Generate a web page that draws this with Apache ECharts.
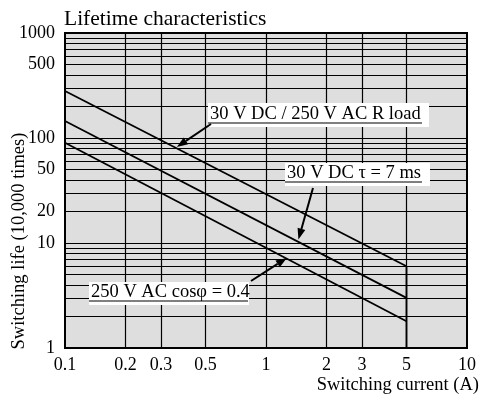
<!DOCTYPE html>
<html>
<head>
<meta charset="utf-8">
<script src="https://cdn.jsdelivr.net/npm/echarts@6/dist/echarts.min.js"></script>
<style>
  html, body { margin: 0; padding: 0; background: #fff; }
  #chart { width: 481px; height: 399px; }
</style>
</head>
<body>
<div id="chart"></div>
<script>
// switching life (x 10,000 times) vs switching current (A)
const rLoad = [[0.1, 280], [5, 6]];
const rLoadCutoff = [[5, 6], [5, 1]];
const dcInductive = [[0.1, 145], [5, 3]];
const acInductive = [[0.1, 90], [5, 1.8]];

const xTickLabels = [0.1, 0.2, 0.3, 0.5, 1, 2, 3, 5, 10];
const yTickLabels = [1, 10, 20, 50, 100, 500, 1000];
const xGridValues = [0.2, 0.3, 0.5, 1, 2, 3, 5];
const yGridValues = [2, 3, 4, 5, 6, 7, 8, 9, 10, 20, 30, 40, 50, 60, 70, 80, 90, 100,
  200, 300, 400, 500, 600, 700, 800, 900];

const labelTexts = ['30 V DC / 250 V AC R load', '30 V DC \u03c4 = 7 ms', '250 V AC cos\u03c6 = 0.4'];
const arrowTips = [[0.36, 82], [1.45, 10.8], [1.27, 7.2]];

const FONT = '"Liberation Serif", "DejaVu Serif", serif';
const INK = '#000';

const chart = echarts.init(document.getElementById('chart'));

const lineSeries = (data) => ({
  type: 'line', data, symbol: 'none', silent: true, z: 3,
  lineStyle: { color: INK, width: 1.8 }, animation: false,
});

chart.setOption({
  animation: false,
  grid: {
    left: 65, right: 14, top: 33, bottom: 51, show: true,
    backgroundColor: '#dedede', borderColor: INK, borderWidth: 2,
  },
  xAxis: {
    type: 'log', min: 0.1, max: 10, logBase: 10,
    axisLine: { show: false }, axisTick: { show: false }, splitLine: { show: false },
    axisLabel: {
      customValues: xTickLabels, margin: 8, color: INK, fontFamily: FONT, fontSize: 18,
      formatter: (v) => String(+v.toPrecision(3)),
    },
  },
  yAxis: {
    type: 'log', min: 1, max: 1000, logBase: 10,
    axisLine: { show: false }, axisTick: { show: false }, splitLine: { show: false },
    axisLabel: {
      customValues: yTickLabels, margin: 10, color: INK, fontFamily: FONT, fontSize: 18,
      formatter: (v) => String(+v.toPrecision(4)),
    },
  },
  series: [
    {
      type: 'line', data: [], silent: true, z: 2,
      markLine: {
        silent: true, symbol: ['none', 'none'], label: { show: false }, animation: false,
        lineStyle: { color: INK, width: 1.2, type: 'solid' },
        emphasis: { disabled: true },
        data: [...xGridValues.map((v) => ({ xAxis: v })), ...yGridValues.map((v) => ({ yAxis: v }))],
      },
    },
    lineSeries(rLoad),
    lineSeries(rLoadCutoff),
    lineSeries(dcInductive),
    lineSeries(acInductive),
  ],
});

// annotations: boxed, underlined labels with arrows pointing to the curves
function arrow(tail, tip) {
  const dx = tip[0] - tail[0], dy = tip[1] - tail[1];
  const len = Math.hypot(dx, dy);
  const ux = dx / len, uy = dy / len;
  const hl = 11, hw = 4;
  const bx = tip[0] - ux * hl, by = tip[1] - uy * hl;
  return [
    { type: 'line', z: 20, shape: { x1: tail[0], y1: tail[1], x2: bx, y2: by }, style: { stroke: INK, lineWidth: 2 } },
    { type: 'polygon', z: 20, shape: { points: [tip, [bx - uy * hw, by + ux * hw], [bx + uy * hw, by - ux * hw]] }, style: { fill: INK } },
  ];
}

function tag(text, x, y, w, h, ulEnd) {
  return [
    { type: 'rect', z: 15, shape: { x, y, width: w, height: h }, style: { fill: '#fff' } },
    { type: 'text', z: 16, x: x + 2, y: y + h / 2 - 1, style: { text, font: `18.5px ${FONT}`, fill: INK, verticalAlign: 'middle' } },
    { type: 'line', z: 16, shape: { x1: x, y1: y + h - 4, x2: ulEnd, y2: y + h - 4 }, style: { stroke: INK, lineWidth: 1.2 } },
  ];
}

const px = (p) => chart.convertToPixel({ xAxisIndex: 0, yAxisIndex: 0 }, p);

chart.setOption({
  graphic: [
    { type: 'text', x: 64, y: 19, style: { text: 'Lifetime characteristics', font: `21.5px ${FONT}`, fill: INK, verticalAlign: 'middle' } },
    { type: 'text', x: 479, y: 385, style: { text: 'Switching current (A)', font: `18.5px ${FONT}`, fill: INK, align: 'right', verticalAlign: 'middle' } },
    { type: 'text', x: 19, y: 241, rotation: Math.PI / 2, style: { text: 'Switching life (10,000 times)', font: `18.5px ${FONT}`, fill: INK, align: 'center', verticalAlign: 'middle' } },
    ...tag(labelTexts[0], 208, 103, 221, 24, 422),
    ...tag(labelTexts[1], 285, 163, 145, 23, 422),
    ...tag(labelTexts[2], 89, 282, 160, 23, 248),
    ...arrow([211, 124], px(arrowTips[0])),
    ...arrow([313, 188], px(arrowTips[1])),
    ...arrow([251, 281], px(arrowTips[2])),
  ],
});
</script>
</body>
</html>
